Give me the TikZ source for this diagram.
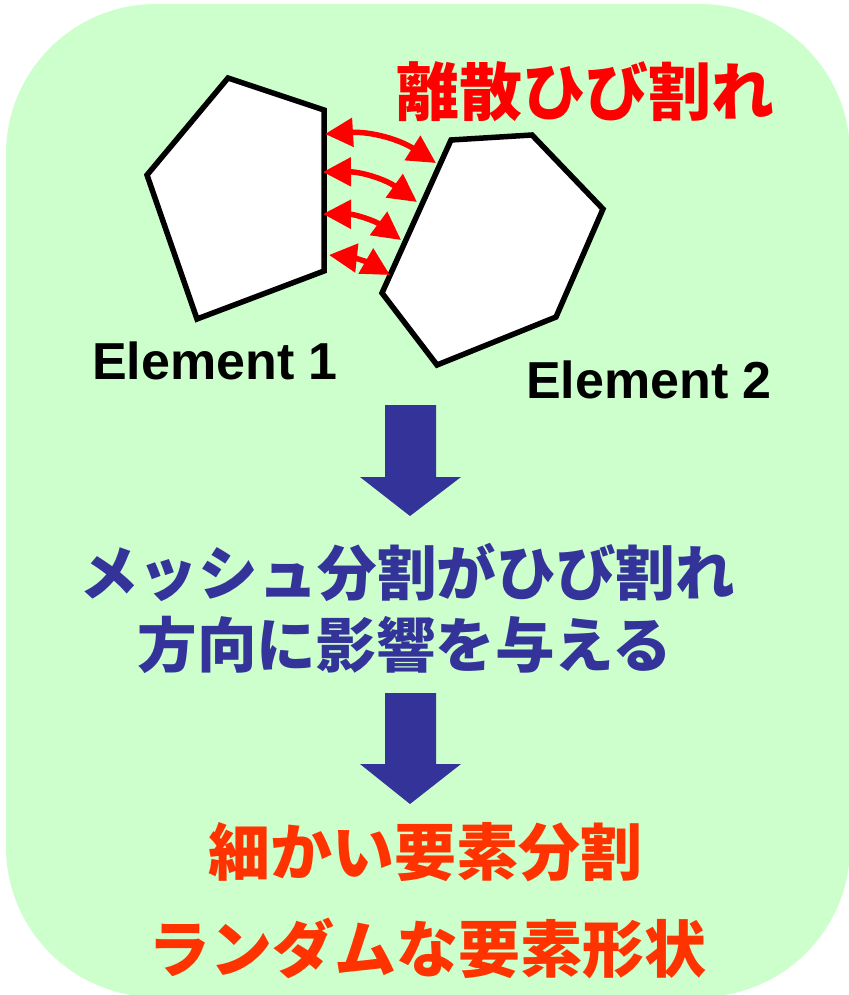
\documentclass[tikz,border=0pt]{standalone}
\usepackage{fontspec}
\setmainfont{Liberation Sans}
\newfontfamily\cjk{Noto Sans CJK JP}
\usetikzlibrary{arrows.meta}
\definecolor{bggreen}{HTML}{CCFFCC}
\definecolor{navy}{HTML}{333399}
\definecolor{orng}{HTML}{FF3300}
\tikzset{
  elem/.style={draw=black, fill=white, line width=2.75pt, line join=miter},
  crack/.style={draw=red, line width=2.75pt, {Triangle[length=14pt,width=14pt]}-{Triangle[length=14pt,width=14pt]}},
  fatarrow/.style={fill=navy, draw=none},
  lbl/.style={inner sep=0pt, font=\bfseries\fontsize{26pt}{30pt}\selectfont},
  jred/.style={inner sep=0pt, text=red, font=\cjk\bfseries\fontsize{31.5pt}{36pt}\selectfont},
  jblue/.style={inner sep=0pt, text=navy, font=\cjk\bfseries\fontsize{29.8pt}{34pt}\selectfont},
  jorng/.style={inner sep=0pt, text=orng, font=\cjk\bfseries\fontsize{31pt}{35pt}\selectfont},
}
\begin{document}
\begin{tikzpicture}[x=0.5pt,y=-0.5pt]
\useasboundingbox (0,0) rectangle (848,995);
\fill[bggreen, rounded corners=75pt] (6,4) rectangle (850,997);

% elements
\draw[elem] (228,78) -- (324,110) -- (324,271) -- (197,319) -- (147,175) -- cycle;
\draw[elem] (451,140) -- (532,135) -- (603,209) -- (556,317) -- (437,365) -- (382,293) -- cycle;

% crack arrows
\coordinate (a1) at (325,134); \coordinate (b1) at (436,163);
\coordinate (a2) at (323,172); \coordinate (b2) at (417,202);
\coordinate (a3) at (323,214); \coordinate (b3) at (401,240);
\coordinate (a4) at (329,255); \coordinate (b4) at (390,275);
\draw[crack] (a1) to[bend left=18] (b1);
\draw[crack] (a2) to[bend left=18] (b2);
\draw[crack] (a3) to[bend left=18] (b3);
\draw[crack] (a4) to[bend left=12] (b4);

% labels
\node[jred] (title) at (585,92) {離散ひび割れ};
\node[lbl] (e1) at (215,361) {Element 1};
\node[lbl] (e2) at (649,380) {Element 2};

% fat arrows
\path[fatarrow] (385,405) -- (436,405) -- (436,477) -- (461,477) -- (410,516) -- (360,477) -- (385,477) -- cycle;
\path[fatarrow] (385,693) -- (436,693) -- (436,764) -- (461,764) -- (410,804) -- (360,764) -- (385,764) -- cycle;

\node[jblue] (m1) at (407,572) {メッシュ分割がひび割れ};
\node[jblue] (m2) at (405,645) {方向に影響を与える};
\node[jorng] (r1) at (425,852) {細かい要素分割};
\node[jorng] (r2) at (427,948) {ランダムな要素形状};
\end{tikzpicture}
\end{document}
